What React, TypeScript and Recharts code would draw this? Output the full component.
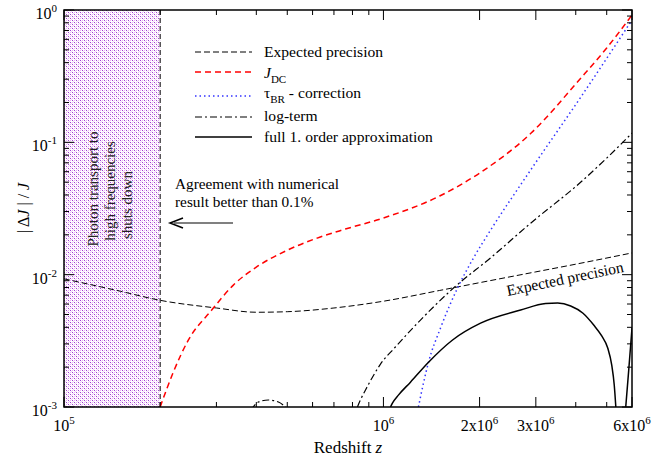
import React from 'react';
import { LineChart, Line, XAxis, YAxis, ReferenceArea, ReferenceLine } from 'recharts';

const FONT = 'Liberation Serif, DejaVu Serif, serif';
const PLOT = { left: 64, right: 632, top: 10, bottom: 407 };

// Expected precision
const precZ = [1e5, 1.5e5, 2e5, 3e5, 4e5, 5e5, 7e5, 1e6, 1.5e6, 2e6, 3e6, 4e6, 6e6];
const precV = [0.0093, 0.0075, 0.0064, 0.0056, 0.0052, 0.00525, 0.0056, 0.0063, 0.0076, 0.0087, 0.0105, 0.012, 0.0146];

// J_DC
const jdcZ = [2e5, 2.2e5, 2.45e5, 2.9e5, 3.39e5, 4e5, 5e5, 6.2e5, 7.6e5, 1e6, 1.5e6, 2e6, 2.9e6, 4.1e6, 5e6, 6e6];
const jdcV = [0.001, 0.00184, 0.0032, 0.0054, 0.00834, 0.0114, 0.0153, 0.0189, 0.0221, 0.0268, 0.0393, 0.0586, 0.1175, 0.296, 0.516, 0.916];

// tau_BR correction
const tauZ = [1.287e6, 1.335e6, 1.384e6, 1.509e6, 1.706e6, 1.915e6, 2.165e6, 2.89e6, 4.15e6, 6e6];
const tauV = [0.001, 0.00152, 0.00218, 0.00395, 0.00792, 0.0134, 0.0217, 0.0618, 0.22, 0.84];

// log-term (null = below the plotted range)
const logZ = [3.85e5, 4.06e5, 4.36e5, 4.69e5, 5.05e5, 6.5e5, 8.29e5, 8.47e5, 8.78e5, 9.24e5, 9.79e5, 1.09e6, 1.306e6, 1.657e6, 2.165e6, 2.89e6, 4.15e6, 5e6, 6e6];
const logV = [0.00095, 0.00109, 0.00113, 0.00109, 0.00095, null, 0.001, 0.00113, 0.00134, 0.00168, 0.00211, 0.00284, 0.00454, 0.00792, 0.0134, 0.0245, 0.0501, 0.076, 0.1175];

// full 1. order approximation
const fullZ = [1.052e6, 1.067e6, 1.114e6, 1.215e6, 1.384e6, 1.646e6, 2.014e6, 2.689e6, 3.219e6, 3.512e6, 3.857e6, 4.206e6, 4.553e6, 4.824e6, 5.037e6, 5.185e6, 5.28e6, 5.34e6, 5.5e6, 5.735e6, 5.86e6, 6e6];
const fullV = [0.001, 0.00107, 0.00123, 0.00154, 0.00218, 0.00321, 0.0043, 0.0054, 0.00605, 0.0061, 0.0058, 0.00513, 0.00416, 0.00344, 0.00279, 0.00207, 0.00146, 0.001, null, 0.001, 0.0019, 0.00395];

const xTicks = [1e5, 2e5, 3e5, 4e5, 5e5, 6e5, 7e5, 8e5, 9e5, 1e6, 2e6, 3e6, 4e6, 5e6, 6e6];
const xTickLabels = [
  { value: 1e5, mant: '', exp: '5' },
  { value: 1e6, mant: '', exp: '6' },
  { value: 2e6, mant: '2x', exp: '6' },
  { value: 3e6, mant: '3x', exp: '6' },
  { value: 6e6, mant: '6x', exp: '6' },
];
const yTicks = [
  0.001, 0.002, 0.003, 0.004, 0.005, 0.006, 0.007, 0.008, 0.009,
  0.01, 0.02, 0.03, 0.04, 0.05, 0.06, 0.07, 0.08, 0.09,
  0.1, 0.2, 0.3, 0.4, 0.5, 0.6, 0.7, 0.8, 0.9, 1,
];
const yTickLabels = [
  { value: 0.001, exp: '-3' },
  { value: 0.01, exp: '-2' },
  { value: 0.1, exp: '-1' },
  { value: 1, exp: '0' },
];

const toPoints = (zs: number[], vs: (number | null)[]) => zs.map((z, i) => ({ z, v: vs[i] }));

const XTick = (props: any) => {
  const { x, y, payload } = props;
  const lab = xTickLabels.find((t) => t.value === payload.value);
  const len = lab ? 10 : 5;
  return (
    <g>
      <line x1={x} x2={x} y1={y} y2={y - len} stroke="#000" />
      <line x1={x} x2={x} y1={PLOT.top} y2={PLOT.top + len} stroke="#000" />
      {lab && (
        <text x={x} y={y + 24} textAnchor="middle" style={{ fontFamily: FONT }} fontSize={16} fill="#000">
          {lab.mant}10<tspan dy={-7} fontSize={11}>{lab.exp}</tspan>
        </text>
      )}
    </g>
  );
};

const YTick = (props: any) => {
  const { x, y, payload } = props;
  const lab = yTickLabels.find((t) => t.value === payload.value);
  const len = lab ? 10 : 5;
  return (
    <g>
      <line x1={x} x2={x + len} y1={y} y2={y} stroke="#000" />
      <line x1={PLOT.right} x2={PLOT.right - len} y1={y} y2={y} stroke="#000" />
      {lab && (
        <text x={x - 7} y={y + 9} textAnchor="end" style={{ fontFamily: FONT }} fontSize={16} fill="#000">
          10<tspan dy={-7} fontSize={11}>{lab.exp}</tspan>
        </text>
      )}
    </g>
  );
};

const legendRows = [
  { y: 52, stroke: '#000', dash: '6 3', w: 1 },
  { y: 72, stroke: '#ff0000', dash: '6 4', w: 1.5 },
  { y: 96, stroke: '#3333ff', dash: '1.5 3', w: 1.5 },
  { y: 117, stroke: '#000', dash: '7 3 2 3', w: 1.2 },
  { y: 137, stroke: '#000', dash: undefined, w: 1.5 },
];

const App: React.FC = () => {
  return (
    <div style={{ position: 'absolute', left: 0, top: 0, width: 666, height: 462, background: '#fff' }}>
      <LineChart width={666} height={462} margin={{ top: 10, right: 34, bottom: 0, left: 0 }}>
        <defs>
          <pattern id="hatch" width="4" height="4" patternUnits="userSpaceOnUse">
            <rect width="4" height="4" fill="#ffffff" />
            <rect x="0" y="0" width="1" height="1" fill="#a040d0" />
            <rect x="2" y="2" width="1" height="1" fill="#a040d0" />
            <rect x="2" y="0" width="1" height="1" fill="#eab0f6" />
            <rect x="0" y="2" width="1" height="1" fill="#eab0f6" />
            <rect x="1" y="1" width="1" height="1" fill="#f0d0f8" />
            <rect x="3" y="3" width="1" height="1" fill="#f0d0f8" />
          </pattern>
        </defs>
        <XAxis
          type="number"
          dataKey="z"
          scale="log"
          domain={[1e5, 6e6]}
          allowDataOverflow
          ticks={xTicks}
          interval={0}
          tick={XTick}
          tickSize={0}
          tickMargin={0}
          tickLine={false}
          axisLine={false}
          height={55}
        />
        <YAxis
          type="number"
          scale="log"
          domain={[1e-3, 1]}
          allowDataOverflow
          ticks={yTicks}
          interval={0}
          tick={YTick}
          tickSize={0}
          tickMargin={0}
          tickLine={false}
          axisLine={false}
          width={64}
        />
        <ReferenceArea x1={1e5} x2={2e5} y1={1e-3} y2={1} fill="url(#hatch)" fillOpacity={1} stroke="none" />
        <ReferenceLine x={2e5} stroke="#000" strokeDasharray="5 3" strokeWidth={1} />
        <Line data={toPoints(precZ, precV)} dataKey="v" type="monotone" stroke="#000" strokeWidth={1} strokeDasharray="6 3" dot={false} isAnimationActive={false} />
        <Line data={toPoints(jdcZ, jdcV)} dataKey="v" type="monotone" stroke="#ff0000" strokeWidth={1.5} strokeDasharray="6 4" dot={false} isAnimationActive={false} />
        <Line data={toPoints(tauZ, tauV)} dataKey="v" type="monotone" stroke="#3333ff" strokeWidth={1.5} strokeDasharray="1.5 3" dot={false} isAnimationActive={false} />
        <Line data={toPoints(logZ, logV)} dataKey="v" type="monotone" stroke="#000" strokeWidth={1.2} strokeDasharray="7 3 2 3" dot={false} isAnimationActive={false} />
        <Line data={toPoints(fullZ, fullV)} dataKey="v" type="monotone" stroke="#000" strokeWidth={1.5} dot={false} isAnimationActive={false} />
      </LineChart>

      <svg width={666} height={462} style={{ position: 'absolute', left: 0, top: 0, pointerEvents: 'none', fontFamily: FONT }}>
        <rect x={PLOT.left} y={PLOT.top} width={PLOT.right - PLOT.left} height={PLOT.bottom - PLOT.top} fill="none" stroke="#000" strokeWidth={1.5} />

        <g fontSize={15} fill="#222">
          <text transform="translate(98,189) rotate(-90)" textAnchor="middle">Photon transport to</text>
          <text transform="translate(115,191) rotate(-90)" textAnchor="middle">high frequencies</text>
          <text transform="translate(132,205) rotate(-90)" textAnchor="middle">shuts down</text>
        </g>

        <g fontSize={15.3} fill="#000">
          <text x={175} y={189}>Agreement with numerical</text>
          <text x={175} y={207}>result better than 0.1%</text>
        </g>
        <line x1={174} y1={223} x2={233} y2={223} stroke="#808080" strokeWidth={2} />
        <polyline points="183,218 170,223 183,228" fill="none" stroke="#000" strokeWidth={1.5} />

        <text transform="translate(565,279) rotate(-11.7)" textAnchor="middle" fontSize={15.6} fill="#000" dy={5}>
          Expected precision
        </text>

        {legendRows.map((r, i) => (
          <line key={i} x1={195} x2={252} y1={r.y} y2={r.y} stroke={r.stroke} strokeWidth={r.w} strokeDasharray={r.dash} />
        ))}
        <g fontSize={15.6} fill="#000">
          <text x={264} y={57}>Expected precision</text>
          <text x={264} y={78}>
            <tspan fontStyle="italic">J</tspan>
            <tspan dy={5} fontSize={11}>DC</tspan>
          </text>
          <text x={264} y={98}>
            τ<tspan dy={5} fontSize={11}>BR</tspan>
            <tspan dy={-5}> - correction</tspan>
          </text>
          <text x={264} y={121}>log-term</text>
          <text x={264} y={142}>full 1. order approximation</text>
        </g>

        <text x={348} y={453} textAnchor="middle" fontSize={17} fill="#000">
          Redshift <tspan fontStyle="italic">z</tspan>
        </text>
        <text transform="translate(29,208) rotate(-90)" textAnchor="middle" fontSize={16} fill="#000">
          | Δ<tspan fontStyle="italic">J</tspan> | / <tspan fontStyle="italic">J</tspan>
        </text>
      </svg>
    </div>
  );
};

export default App;
